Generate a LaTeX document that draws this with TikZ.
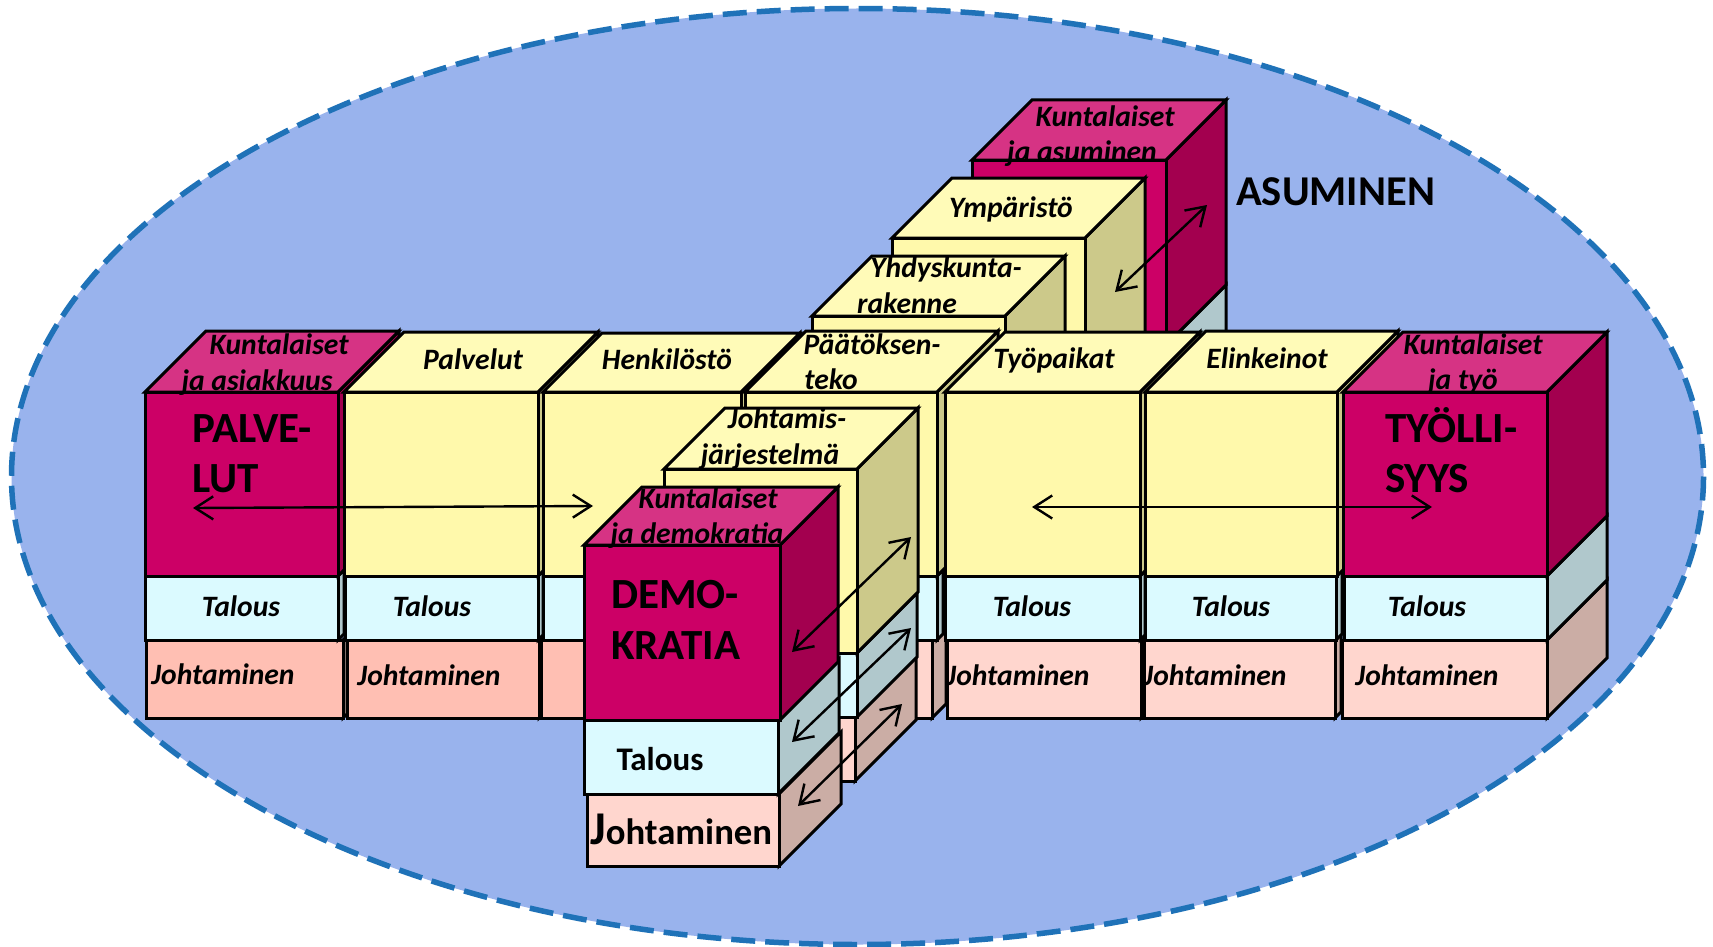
\documentclass[tikz,border=0pt]{standalone}
\usepackage{fontspec}
\setmainfont{Carlito}
\usetikzlibrary{arrows.meta}
\definecolor{bgblue}{HTML}{99B3ED}
\definecolor{dashblue}{HTML}{1F72B8}
\definecolor{magF}{HTML}{CC0066}
\definecolor{magT}{HTML}{D63384}
\definecolor{magS}{HTML}{A3004F}
\definecolor{yelF}{HTML}{FFF9AB}
\definecolor{yelT}{HTML}{FFFBB8}
\definecolor{yelS}{HTML}{CCC98A}
\definecolor{talF}{HTML}{DBFAFF}
\definecolor{talS}{HTML}{B0C8CC}
\definecolor{johA}{HTML}{FFBFB3}
\definecolor{johB}{HTML}{FFD6CE}
\definecolor{johS}{HTML}{CBADA5}
\tikzset{
  edge/.style={draw=black,line width=3pt,line join=miter},
  lab/.style={anchor=base,inner sep=0pt,font=\fontsize{29.6}{30}\selectfont\bfseries\itshape},
  big/.style={anchor=base west,inner sep=0pt,font=\fontsize{43}{43}\selectfont\bfseries},
  link/.style={line width=2.4pt,{Straight Barb[length=18pt,width=23pt,line width=2.4pt]}-{Straight Barb[length=18pt,width=23pt,line width=2.4pt]}},
}
% main box: L R T B depth front top side
\newcommand{\mainbox}[8]{%
  \path[edge,fill=#8] (#2,#3) -- ({#2+#5},{#3-#5}) -- ({#2+#5},{#4-#5}) -- (#2,#4) -- cycle;
  \path[edge,fill=#7] (#1,#3) -- ({#1+#5},{#3-#5}) -- ({#2+#5},{#3-#5}) -- (#2,#3) -- cycle;
  \path[edge,fill=#6] (#1,#3) rectangle (#2,#4);
}
% lower box: L R T B depth front side
\newcommand{\lowbox}[7]{%
  \path[edge,fill=#7] (#2,#3) -- ({#2+#5},{#3-#5}) -- ({#2+#5},{#4-#5}) -- (#2,#4) -- cycle;
  \path[edge,fill=#6] (#1,#3) rectangle (#2,#4);
}
\begin{document}
\begin{tikzpicture}[x=1pt,y=-1pt]
\useasboundingbox (0,0) rectangle (1713,947);
\path[fill=white] (0,0) rectangle (1713,947);
\path[fill=bgblue,draw=dashblue,line width=5.5pt,dash pattern=on 24pt off 10pt] (857.5,476.5) ellipse [x radius=846,y radius=468];

% --- rear arm
\lowbox{972}{1166}{345}{405}{60}{talF}{talS}
\mainbox{972}{1166}{160}{345}{60}{magF}{magT}{magS}
\node[lab] (kas1) at (1105,127) {Kuntalaiset};
\node[lab] (kas2) at (1082,161) {ja asuminen};
\mainbox{892}{1085}{238}{420}{60}{yelF}{yelT}{yelS}
\node[lab] (ymp) at (1011,217) {Ympäristö};
\mainbox{812}{1005}{316}{420}{60}{yelF}{yelT}{yelS}
\node[lab] (yhd1) at (946,277) {Yhdyskunta-};
\node[lab] (yhd2) at (907,313) {rakenne};

% --- main row, left to right
\lowbox{146}{343}{640}{718}{4}{johA}{johS}
\lowbox{145}{338}{576}{640}{6}{talF}{talS}
\mainbox{145}{338}{392}{576}{61}{magF}{magT}{magS}
\lowbox{347}{539}{640}{718}{4}{johA}{johS}
\lowbox{345}{538}{576}{640}{5}{talF}{talS}
\mainbox{344}{538}{392}{576}{60}{yelF}{yelT}{yelS}
\lowbox{541}{745}{640}{718}{4}{johA}{johS}
\lowbox{543}{741}{576}{640}{5}{talF}{talS}
\mainbox{543}{741}{392}{576}{59}{yelF}{yelT}{yelS}
\lowbox{745}{932}{640}{718}{14}{johB}{johS}
\lowbox{745}{937}{576}{640}{6}{talF}{talS}
\mainbox{745}{937}{392}{576}{61}{yelF}{yelT}{yelS}
\lowbox{947}{1141}{640}{718}{4}{johB}{johS}
\lowbox{945}{1140}{576}{640}{5}{talF}{talS}
\mainbox{945}{1140}{392}{576}{60}{yelF}{yelT}{yelS}
\lowbox{1144}{1335}{640}{718}{6}{johB}{johS}
\lowbox{1145}{1336}{576}{640}{6}{talF}{talS}
\mainbox{1145}{1337}{392}{576}{61}{yelF}{yelT}{yelS}
\lowbox{1342}{1547}{640}{718}{60}{johB}{johS}
\lowbox{1344}{1547}{576}{640}{60}{talF}{talS}
\mainbox{1343}{1547}{392}{576}{60}{magF}{magT}{magS}

\node[lab] (kap1) at (279,354) {Kuntalaiset};
\node[lab] (kap2) at (257,390) {ja asiakkuus};
\node[lab] (pal) at (473,369) {Palvelut};
\node[lab] (hen) at (667,369) {Henkilöstö};
\node[lab] (paa1) at (872,354) {Päätöksen-};
\node[lab] (paa2) at (831,389) {teko};
\node[lab] (tyo) at (1054,368) {Työpaikat};
\node[lab] (eli) at (1267,368) {Elinkeinot};
\node[lab] (kat1) at (1473,354) {Kuntalaiset};
\node[lab] (kat2) at (1463,389) {ja työ};
\node[big] (pv1) at (192,442) {PALVE-};
\node[big] (pv2) at (192,492) {LUT};
\node[big] (ty1) at (1385,442) {TYÖLLI-};
\node[big] (ty2) at (1385,492) {SYYS};
\node[lab] (ta1) at (241,616) {Talous};
\node[lab] (ta2) at (432,616) {Talous};
\node[lab] (ta3) at (1032,616) {Talous};
\node[lab] (ta4) at (1231,616) {Talous};
\node[lab] (ta5) at (1427,616) {Talous};
\node[lab] (jo1) at (223,684) {Johtaminen};
\node[lab] (jo2) at (429,685) {Johtaminen};
\node[lab] (jo3) at (1018,685) {Johtaminen};
\node[lab] (jo4) at (1215,685) {Johtaminen};
\node[lab] (jo5) at (1427,685) {Johtaminen};

% --- front arm
\lowbox{664}{855}{717}{781}{61}{johB}{johS}
\lowbox{664}{857}{653}{717}{60}{talF}{talS}
\mainbox{664}{857}{469}{653}{61}{yelF}{yelT}{yelS}
\node[lab] (joh1) at (787,428) {Johtamis-};
\node[lab] (joh2) at (770,464) {järjestelmä};
\lowbox{587}{779}{794}{866}{62}{johB}{johS}
\lowbox{584}{778}{720}{794}{61}{talF}{talS}
\mainbox{584}{780}{545}{720}{58}{magF}{magT}{magS}
\node[lab] (kad1) at (708,508) {Kuntalaiset};
\node[lab] (kad2) at (697,543) {ja demokratia};
\node[big] (dm1) at (611,608) {DEMO-};
\node[big] (dm2) at (611,659) {KRATIA};
\node[anchor=base,inner sep=0pt,font=\fontsize{33}{33}\selectfont\bfseries] (tad) at (660,770) {Talous};
\node[anchor=base west,inner sep=0pt,font=\fontsize{36.7}{36.7}\selectfont\bfseries] (jod) at (590,844) {{\fontsize{47}{47}\selectfont J}ohtaminen};
\node[anchor=base west,inner sep=0pt,font=\fontsize{42.5}{42.5}\selectfont\bfseries] (asu) at (1236,205) {ASUMINEN};

% --- arrows
\coordinate (a1) at (193,508); \coordinate (a2) at (593,506);
\coordinate (b1) at (1032,507); \coordinate (b2) at (1432,507);
\coordinate (c1) at (1207,205); \coordinate (c2) at (1115,292);
\coordinate (d1) at (911,537); \coordinate (d2) at (792,652);
\coordinate (e1) at (911,628); \coordinate (e2) at (792,742);
\coordinate (f1) at (902,704); \coordinate (f2) at (798,806);
\draw[link] (a1) -- (a2);
\draw[link] (b1) -- (b2);
\draw[link] (c1) -- (c2);
\draw[link] (d1) -- (d2);
\draw[link] (e1) -- (e2);
\draw[link] (f1) -- (f2);
\end{tikzpicture}
\end{document}
